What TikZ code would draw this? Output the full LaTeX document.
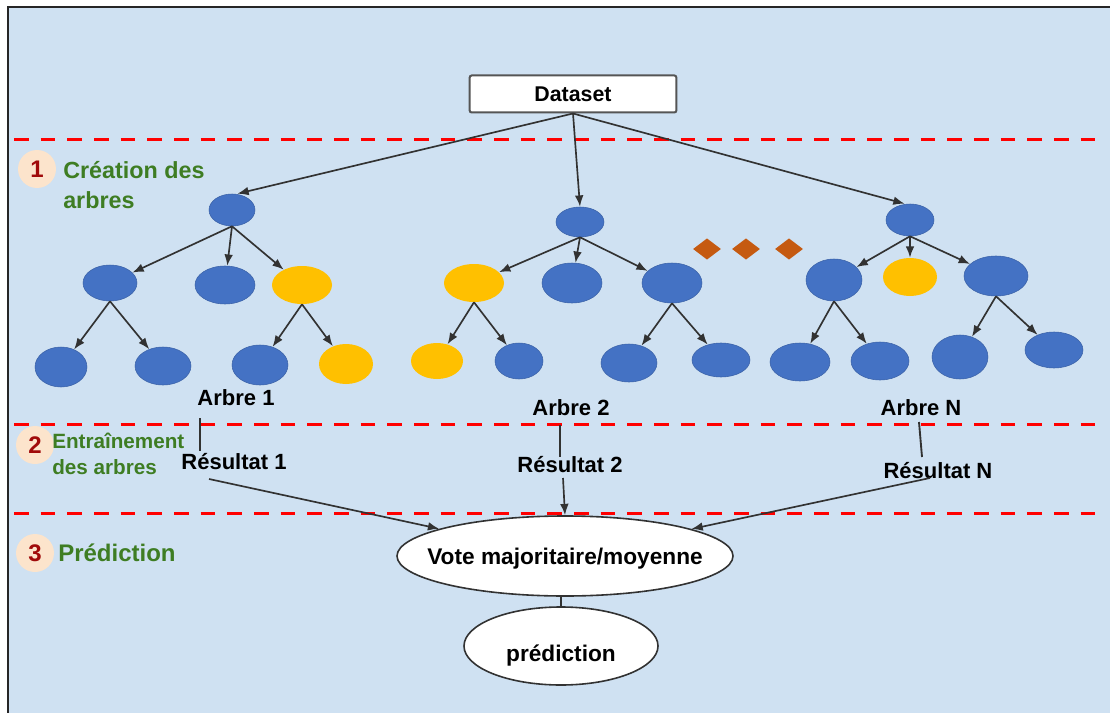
\documentclass[tikz,border=0pt]{standalone}
\usepackage{fontspec}
\setmainfont{Liberation Sans}
\usetikzlibrary{shapes.geometric,arrows.meta}

\definecolor{bgblue}{RGB}{207,225,242}
\definecolor{nodeblue}{RGB}{68,114,196}
\definecolor{nodeyellow}{RGB}{255,192,0}
\definecolor{dotorange}{RGB}{197,90,17}
\definecolor{stepgreen}{RGB}{62,125,35}
\definecolor{numred}{RGB}{160,10,10}
\definecolor{numpeach}{RGB}{252,228,204}
\definecolor{linegray}{RGB}{50,50,50}
\definecolor{boxgray}{RGB}{85,85,85}

\begin{document}
\begin{tikzpicture}[x=0.75pt,y=-0.75pt,
  bnode/.style 2 args={ellipse, fill=nodeblue, draw=nodeblue!85!black, line width=0.4pt,
    inner sep=0pt, minimum width=#1*1.5pt, minimum height=#2*1.5pt},
  ynode/.style 2 args={ellipse, fill=nodeyellow, inner sep=0pt,
    minimum width=#1*1.5pt, minimum height=#2*1.5pt},
  dotmark/.style={diamond, fill=dotorange, inner sep=0pt, minimum width=21pt, minimum height=16pt},
  arr/.style={-{Latex[length=8.5pt,width=6.5pt]}, draw=linegray, line width=1.25pt},
  conn/.style={draw=linegray, line width=1.4pt},
  sep/.style={draw=red, line width=2.25pt, dash pattern=on 11pt off 9pt},
  lbl/.style={font=\fontsize{16.5}{19}\selectfont\bfseries, inner sep=0pt},
  badge/.style={circle, fill=numpeach, inner sep=0pt, minimum size=28.5pt,
    text=numred, font=\fontsize{18}{20}\selectfont\bfseries},
  stagetext/.style={text=stepgreen, inner sep=0pt, align=left, anchor=west},
  bubble/.style={ellipse, fill=white, draw=linegray, line width=1.2pt, inner sep=0pt}
]
\useasboundingbox (0,0) rectangle (1110,713);

% background panel and its frame
\fill[bgblue] (8,7) rectangle (1110,713);
\draw[black!85, line width=1.5pt] (1110,7) -- (8,7) -- (8,713);

% stage separators
\draw[sep] (14,140) -- (1105,140);
\draw[sep] (14,424) -- (1105,424);
\draw[sep] (14,513) -- (1105,513);

% stage headings
\node[badge] (n1) at (37,169) {1};
\node[stagetext, font=\fontsize{17.5}{22.5}\selectfont\bfseries] (s1) at (63,185) {Création des\\arbres};
\node[badge] (n2) at (35,445) {2};
\node[stagetext, font=\fontsize{15.5}{19.5}\selectfont\bfseries] (s2) at (52,454) {Entraînement\\des arbres};
\node[badge] (n3) at (35,553) {3};
\node[stagetext, font=\fontsize{18}{22}\selectfont\bfseries] (s3) at (58,553) {Prédiction};

% dataset
\node[draw=boxgray, line width=1.5pt, fill=white, rounded corners=1.5pt,
      minimum width=155pt, minimum height=27.75pt, inner sep=0pt,
      font=\fontsize{16}{19}\selectfont\bfseries] (ds) at (573,94) {Dataset};

% tree 1
\node[bnode={23}{16}] (t1r) at (232,210) {};
\node[bnode={27}{18}] (t1a) at (110,283) {};
\node[bnode={30}{19}] (t1b) at (225,285) {};
\node[ynode={30}{19}] (t1c) at (302,285) {};
\node[bnode={26}{20}] (t1a1) at (61,367) {};
\node[bnode={28}{19}] (t1a2) at (163,366) {};
\node[bnode={28}{20}] (t1c1) at (260,365) {};
\node[ynode={27}{20}] (t1c2) at (346,364) {};

% tree 2
\node[bnode={24}{15}] (t2r) at (580,222) {};
\node[ynode={30}{19}] (t2a) at (474,283) {};
\node[bnode={30}{20}] (t2b) at (572,283) {};
\node[bnode={30}{20}] (t2c) at (672,283) {};
\node[ynode={26}{18}] (t2a1) at (437,361) {};
\node[bnode={24}{18}] (t2a2) at (519,361) {};
\node[bnode={28}{19}] (t2c1) at (629,363) {};
\node[bnode={29}{17}] (t2c2) at (721,360) {};

% tree N
\node[bnode={24}{16}] (t3r) at (910,220) {};
\node[bnode={28}{21}] (t3a) at (834,280) {};
\node[ynode={27}{19}] (t3b) at (910,277) {};
\node[bnode={32}{20}] (t3c) at (996,276) {};
\node[bnode={30}{19}] (t3a1) at (800,362) {};
\node[bnode={29}{19}] (t3a2) at (880,361) {};
\node[bnode={28}{22}] (t3c1) at (960,357) {};
\node[bnode={29}{18}] (t3c2) at (1054,350) {};

% ellipsis between trees
\node[dotmark] (d1) at (707,249) {};
\node[dotmark] (d2) at (746,249) {};
\node[dotmark] (d3) at (789,249) {};

% dataset to roots
\draw[arr] (ds.south) -- ([xshift=4pt]t1r.north);
\draw[arr] (ds.south) -- (t2r.north);
\draw[arr] (ds.south) -- ([xshift=-4pt]t3r.north);

% tree edges
\foreach \p/\c in {t1r/t1a, t1r/t1b, t1r/t1c, t1a/t1a1, t1a/t1a2, t1c/t1c1, t1c/t1c2,
                   t2r/t2a, t2r/t2b, t2r/t2c, t2a/t2a1, t2a/t2a2, t2c/t2c1, t2c/t2c2,
                   t3r/t3a, t3r/t3b, t3r/t3c, t3a/t3a1, t3a/t3a2, t3c/t3c1, t3c/t3c2}
  \draw[arr] (\p.south) -- (\c);

% tree names and results
\node[lbl] (a1) at (236,398) {Arbre 1};
\node[lbl] (a2) at (571,408) {Arbre 2};
\node[lbl] (a3) at (921,408) {Arbre N};
\node[lbl] (r1) at (234,462) {Résultat 1};
\node[lbl] (r2) at (570,465) {Résultat 2};
\node[lbl] (r3) at (938,471) {Résultat N};

\coordinate (a1d) at (200,418);
\coordinate (r1u) at (200,451);
\coordinate (a2d) at (560,425);
\coordinate (r2u) at (560,457);
\coordinate (a3d) at (919,422);
\coordinate (r3u) at (922,457);
\draw[conn] (a1d) -- (r1u);
\draw[conn] (a2d) -- (r2u);
\draw[conn] (a3d) -- (r3u);

% aggregation and final output
\node[bubble, minimum width=252pt, minimum height=60pt,
      label={[lbl, font=\fontsize{17}{19}\selectfont\bfseries, yshift=-2pt]center:Vote majoritaire/moyenne}] (vote) at (565,556) {};
\node[bubble, minimum width=145.5pt, minimum height=58.5pt,
      label={[lbl, font=\fontsize{17}{19}\selectfont\bfseries, yshift=-7pt]center:prédiction}] (pred) at (561,646) {};

\coordinate (r1o) at (209,479);
\coordinate (r2o) at (563,478);
\coordinate (r3o) at (930,478);
\draw[arr] (r1o) -- (vote);
\draw[arr] (r2o) -- (vote.north);
\draw[arr] (r3o) -- (vote);
\draw[conn] (pred.north |- vote.south) -- (pred.north);
\end{tikzpicture}
\end{document}
